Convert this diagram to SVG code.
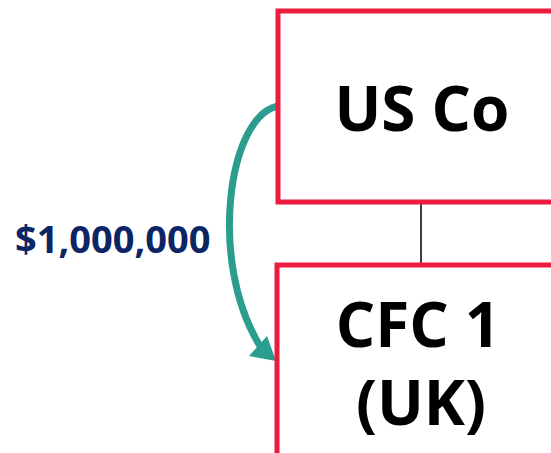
<svg xmlns="http://www.w3.org/2000/svg" width="551" height="453" viewBox="0 0 551 453">
<style>
.box{fill:#fff;stroke:#ec1c3f;stroke-width:5}
.t{font-family:"Open Sans","DejaVu Sans",sans-serif;font-weight:bold;font-size:62px;fill:#000;text-anchor:middle}
.lbl{font-family:"Open Sans","DejaVu Sans",sans-serif;font-weight:bold;font-size:38px;fill:#0b2565}
</style>
<rect width="551" height="453" fill="#fff"/>
<g id="connectors">
<line x1="421" y1="204" x2="421" y2="264" stroke="#000" stroke-width="1.5"/>
<path d="M278,106 C228,116 208,262 260,346" fill="none" stroke="#2a9d8f" stroke-width="7"/>
<polygon points="276,361 249,356 267,336" fill="#2a9d8f"/>
</g>
<g id="us-co">
<rect class="box" x="278" y="11" width="300" height="191"/>
<text class="t" x="422" y="131">US Co</text>
</g>
<g id="cfc1">
<rect class="box" x="277" y="265" width="300" height="220"/>
<text class="t" x="418" y="347">CFC 1</text>
<text class="t" x="421" y="425">(UK)</text>
</g>
<g id="amount">
<text class="lbl" x="15" y="253">$1,000,000</text>
</g>
</svg>
